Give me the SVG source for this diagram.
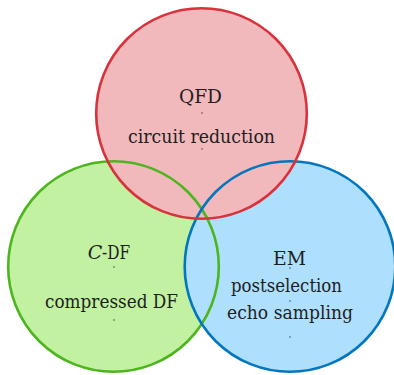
<svg xmlns="http://www.w3.org/2000/svg" width="394" height="375" viewBox="0 0 394 375">
<style>
  .t { font-family: 'DejaVu Serif', 'Liberation Serif', 'Times New Roman', serif; font-size: 19px; fill: #1e1e1e; text-anchor: middle; }
  .dot { fill: #333; }
  .outline { fill: none; stroke-width: 2.6; }
</style>
<rect width="394" height="375" fill="#ffffff"/>
<g id="cdf">
  <circle cx="113.5" cy="266.5" r="105.3" fill="#c1f1a1"/>
  <text class="t" x="95" y="259" font-style="italic">C</text>
  <text class="t" x="116" y="259" textLength="28" lengthAdjust="spacingAndGlyphs">-DF</text>
  <circle class="dot" cx="114" cy="267" r="0.7"/>
  <text class="t" x="111.5" y="308" textLength="133" lengthAdjust="spacingAndGlyphs">compressed DF</text>
  <circle class="dot" cx="114" cy="320" r="0.7"/>
</g>
<g id="em">
  <circle cx="290" cy="266.5" r="105.3" fill="#aee0fd"/>
  <text class="t" x="289.5" y="265" textLength="33" lengthAdjust="spacingAndGlyphs">EM</text>
  <circle class="dot" cx="290" cy="268" r="0.7"/>
  <text class="t" x="286.5" y="292" textLength="111" lengthAdjust="spacingAndGlyphs">postselection</text>
  <circle class="dot" cx="290" cy="301" r="0.7"/>
  <text class="t" x="290" y="319" textLength="126" lengthAdjust="spacingAndGlyphs">echo sampling</text>
  <circle class="dot" cx="290" cy="337" r="0.7"/>
</g>
<g id="qfd">
  <circle cx="201.5" cy="113.5" r="105.3" fill="#f2b9bc"/>
  <text class="t" x="200.5" y="103" textLength="43" lengthAdjust="spacingAndGlyphs">QFD</text>
  <circle class="dot" cx="202" cy="113" r="0.7"/>
  <text class="t" x="201.5" y="143" textLength="147" lengthAdjust="spacingAndGlyphs">circuit reduction</text>
  <circle class="dot" cx="202" cy="149" r="0.7"/>
</g>
<g id="outlines">
  <circle class="outline" cx="113.5" cy="266.5" r="105.3" stroke="#4db51d"/>
  <circle class="outline" cx="290" cy="266.5" r="105.3" stroke="#0277bf"/>
  <circle class="outline" cx="201.5" cy="113.5" r="105.3" stroke="#d8333d"/>
</g>
</svg>
